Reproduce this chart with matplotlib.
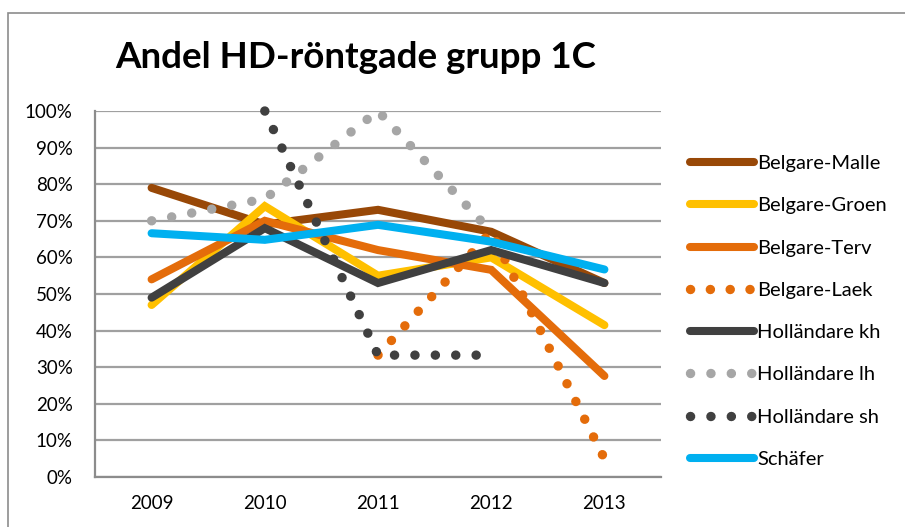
import numpy as np
import matplotlib
matplotlib.use("Agg")
import matplotlib.pyplot as plt
from matplotlib.patches import Rectangle

nan = np.nan

years = ["2009", "2010", "2011", "2012", "2013"]

belgare_malle = [0.79, 0.69, 0.73, 0.67, 0.53]
belgare_groen = [0.47, 0.74, 0.55, 0.60, 0.415]
belgare_terv = [0.54, 0.70, 0.62, 0.566, 0.276]
belgare_laek = [nan, nan, 0.333, 0.67, 0.05]
hollandare_kh = [0.49, 0.68, 0.53, 0.62, 0.53]
hollandare_lh = [0.70, 0.76, 1.00, 0.67, nan]
hollandare_sh = [nan, 1.00, 0.333, 0.333, nan]
schafer = [0.666, 0.648, 0.689, 0.643, 0.567]

series_names = ["Belgare-Malle", "Belgare-Groen", "Belgare-Terv", "Belgare-Laek",
                "Holländare kh", "Holländare lh", "Holländare sh", "Schäfer"]

plt.rcParams["font.family"] = ["Lato", "DejaVu Sans"]

W, H = 905, 527
fig = plt.figure(figsize=(W / 100, H / 100), dpi=100)

# outer chart frame (cropped at right and bottom)
fig.patches.append(Rectangle((8 / W, -0.1), 1.2, (H - 13) / H + 0.1,
                             transform=fig.transFigure, fill=False,
                             edgecolor="#8c8c8c", linewidth=1.2))

ax = fig.add_axes([95 / W, 50 / H, 566 / W, 366 / H])

solid = dict(linewidth=5.8, solid_capstyle="round", solid_joinstyle="miter", clip_on=False)
dotted = dict(linewidth=6.8, linestyle=(0, (0.01, 2.15)), dash_capstyle="round", clip_on=False)
# slightly tighter dot spacing so the last dot sits near the 2013 point
dotted_laek = dict(dotted, linestyle=(0, (0.01, 2.09)))

x = np.arange(len(years))
styles = [
    (belgare_malle, "#984807", solid),
    (belgare_groen, "#FFC000", solid),
    (belgare_terv, "#E46C0A", solid),
    (belgare_laek, "#E46C0A", dotted_laek),
    (hollandare_kh, "#404040", solid),
    (hollandare_lh, "#A6A6A6", dotted),
    (hollandare_sh, "#404040", dotted),
    (schafer, "#00B0F0", solid),
]
handles = []
for (vals, col, st), name in zip(styles, series_names):
    ln, = ax.plot(x, vals, color=col, label=name, **st)
    handles.append(ln)

ax.set_xlim(-0.5, 4.5)
ax.set_ylim(0, 1)
ax.set_yticks(np.arange(0, 1.01, 0.1))
ax.set_yticklabels([f"{int(round(v * 100))}%" for v in np.arange(0, 1.01, 0.1)])
ax.set_xticks(x)
ax.set_xticklabels(years)
ax.tick_params(axis="both", length=0, labelsize=13.5, colors="black")
ax.tick_params(axis="y", pad=16)
ax.tick_params(axis="x", pad=13)
ax.grid(axis="y", color="#a0a0a0", linewidth=1.6)
ax.set_axisbelow(True)
for s in ["top", "right"]:
    ax.spines[s].set_visible(False)
for s in ["left", "bottom"]:
    ax.spines[s].set_color("#8c8c8c")
    ax.spines[s].set_linewidth(1.6)

fig.text(356 / W, 1 - 57 / H, "Andel HD-röntgade grupp 1C", ha="center", va="center",
         fontsize=26.5, fontweight="bold")

leg = fig.legend(handles=handles, loc="upper left", bbox_to_anchor=(690 / W, 1 - 155 / H),
                 frameon=False, fontsize=14.5, handlelength=3.17, handletextpad=0.15,
                 labelspacing=1.25, borderaxespad=0, borderpad=0)

fig.savefig("out.png", dpi=100)
